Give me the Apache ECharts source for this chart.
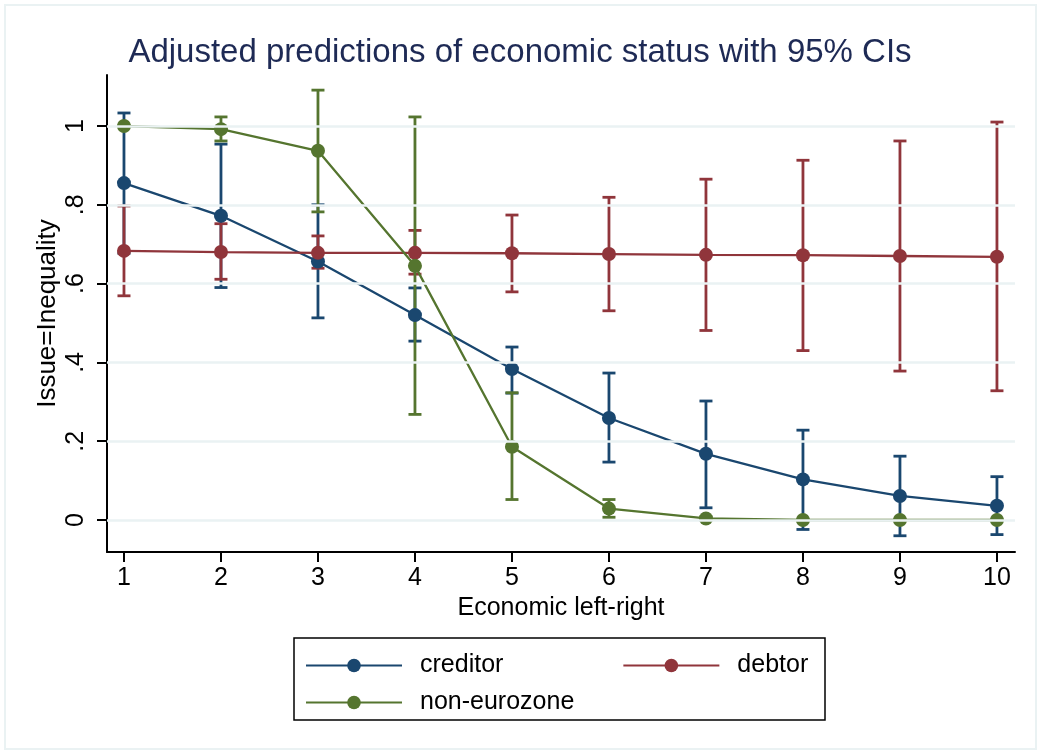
<!DOCTYPE html>
<html>
<head>
<meta charset="utf-8">
<script src="https://cdn.jsdelivr.net/npm/echarts@6/dist/echarts.min.js"></script>
<style>
  html, body { margin: 0; padding: 0; background: #fff; }
  #chart { width: 1040px; height: 754px; }
</style>
</head>
<body>
<div id="chart"></div>
<script>
// x positions (economic left-right)
var xs = [1, 2, 3, 4, 5, 6, 7, 8, 9, 10];

// predictions and 95% CI bounds
var creditorPred = [0.855, 0.772, 0.656, 0.520, 0.383, 0.259, 0.168, 0.103, 0.061, 0.036];
var creditorLo   = [0.677, 0.590, 0.513, 0.454, 0.322, 0.147, 0.031, -0.024, -0.040, -0.037];
var creditorHi   = [1.033, 0.954, 0.800, 0.589, 0.439, 0.373, 0.302, 0.228, 0.162, 0.110];

var debtorPred = [0.683, 0.680, 0.678, 0.678, 0.677, 0.675, 0.673, 0.672, 0.670, 0.668];
var debtorLo   = [0.569, 0.611, 0.639, 0.624, 0.579, 0.531, 0.481, 0.430, 0.378, 0.328];
var debtorHi   = [0.797, 0.752, 0.721, 0.735, 0.774, 0.819, 0.865, 0.913, 0.962, 1.010];

var nonezPred = [1.000, 0.992, 0.937, 0.645, 0.186, 0.029, 0.004, 0.000, 0.000, 0.000];
var nonezLo   = [1.000, 0.962, 0.782, 0.268, 0.052, 0.007, 0.000, 0.000, 0.000, 0.000];
var nonezHi   = [1.000, 1.023, 1.091, 1.023, 0.323, 0.052, 0.008, 0.000, 0.000, 0.000];

// tick values and labels
var yTicks = [0, 0.2, 0.4, 0.6, 0.8, 1];
var yTickLabels = ['0', '.2', '.4', '.6', '.8', '1'];
var xTicks = [1, 2, 3, 4, 5, 6, 7, 8, 9, 10];

var NAVY = '#1a476f', MAROON = '#90353b', GREEN = '#55752f';
var FONT = "'Liberation Sans', Arial, Helvetica, sans-serif";

function pairs(vals) {
    return xs.map(function (x, i) { return [x, vals[i]]; });
}
function triples(lo, hi) {
    return xs.map(function (x, i) { return [x, lo[i], hi[i]]; });
}

// draws a capped vertical range (Stata rcap)
function capRender(color) {
    return function (params, api) {
        var x = api.value(0);
        var lo = api.coord([x, api.value(1)]);
        var hi = api.coord([x, api.value(2)]);
        var half = 6.5;
        var st = { stroke: color, lineWidth: 2.8 };
        return {
            type: 'group',
            children: [
                { type: 'line', shape: { x1: lo[0], y1: lo[1], x2: hi[0], y2: hi[1] }, style: st },
                { type: 'line', shape: { x1: lo[0] - half, y1: lo[1], x2: lo[0] + half, y2: lo[1] }, style: st },
                { type: 'line', shape: { x1: hi[0] - half, y1: hi[1], x2: hi[0] + half, y2: hi[1] }, style: st }
            ]
        };
    };
}

function lineSeries(name, vals, color) {
    return {
        name: name,
        type: 'line',
        data: pairs(vals),
        symbol: 'circle',
        symbolSize: 14,
        itemStyle: { color: color },
        lineStyle: { color: color, width: 2.3 },
        z: 4
    };
}

function capSeries(name, lo, hi, color) {
    return {
        name: name,
        type: 'custom',
        data: triples(lo, hi),
        renderItem: capRender(color),
        encode: { x: 0, y: [1, 2] },
        z: 3
    };
}

var chart = echarts.init(document.getElementById('chart'), null, { renderer: 'canvas' });

var legendCommon = {
    orient: 'horizontal',
    left: 305,
    padding: 0,
    itemWidth: 96,
    itemHeight: 17,
    itemGap: 119,
    selectedMode: false,
    textStyle: { fontSize: 25, color: '#000', fontFamily: FONT, padding: [0, 0, 0, 13] }
};

var option = {
    animation: false,
    backgroundColor: '#fff',
    title: {
        text: 'Adjusted predictions of economic status with 95% CIs',
        left: 'center',
        top: 31,
        textStyle: { fontSize: 33, fontWeight: 'normal', color: '#1e2a55', fontFamily: FONT }
    },
    legend: [
        Object.assign({}, legendCommon, { data: ['creditor', 'debtor'], top: 653 }),
        Object.assign({}, legendCommon, { data: ['non-eurozone'], top: 690 })
    ],
    grid: { left: 107, right: 25, top: 75, bottom: 202 },
    xAxis: {
        type: 'value',
        min: 0.825,
        max: 10.186,
        name: 'Economic left-right',
        nameLocation: 'middle',
        nameGap: 42,
        nameTextStyle: { fontSize: 25, color: '#000', fontFamily: FONT },
        axisLine: { show: true, onZero: false, lineStyle: { color: '#000', width: 2 } },
        axisTick: { show: true, length: 10, customValues: xTicks, lineStyle: { color: '#000', width: 2 } },
        axisLabel: { customValues: xTicks, fontSize: 25, color: '#000', fontFamily: FONT, margin: 14 },
        splitLine: { show: false }
    },
    yAxis: {
        type: 'value',
        min: -0.0812,
        max: 1.1294,
        name: 'Issue=Inequality',
        nameLocation: 'middle',
        nameGap: 46,
        nameMoveOverlap: false,
        nameRotate: 90,
        nameTextStyle: { fontSize: 26, color: '#000', fontFamily: FONT },
        axisLine: { show: true, onZero: false, lineStyle: { color: '#000', width: 2 } },
        axisTick: { show: true, length: 10, customValues: yTicks, lineStyle: { color: '#000', width: 2 } },
        axisLabel: {
            customValues: yTicks,
            rotate: 90,
            fontSize: 25,
            color: '#000',
            fontFamily: FONT,
            margin: 18,
            formatter: function (v) {
                var i = yTicks.findIndex(function (t) { return Math.abs(t - v) < 1e-6; });
                return i >= 0 ? yTickLabels[i] : '';
            }
        },
        splitLine: { show: false }
    },
    graphic: [
        { type: 'rect', shape: { x: 5, y: 5, width: 1031, height: 744 }, style: { fill: 'none', stroke: '#eaf2f3', lineWidth: 2 }, z: -1 },
        { type: 'rect', shape: { x: 294, y: 638, width: 531, height: 82 }, style: { fill: 'none', stroke: '#000', lineWidth: 1.5 } }
    ],
    series: [
        {
            name: 'grid',
            type: 'line',
            data: [],
            silent: true,
            z: 1,
            markLine: {
                silent: true,
                symbol: 'none',
                label: { show: false },
                lineStyle: { color: '#eaf2f3', width: 2.5, type: 'solid' },
                data: yTicks.map(function (v) { return { yAxis: v }; })
            }
        },
        capSeries('creditor CI', creditorLo, creditorHi, NAVY),
        capSeries('debtor CI', debtorLo, debtorHi, MAROON),
        capSeries('non-eurozone CI', nonezLo, nonezHi, GREEN),
        lineSeries('creditor', creditorPred, NAVY),
        lineSeries('debtor', debtorPred, MAROON),
        lineSeries('non-eurozone', nonezPred, GREEN)
    ]
};

chart.setOption(option);
</script>
</body>
</html>
